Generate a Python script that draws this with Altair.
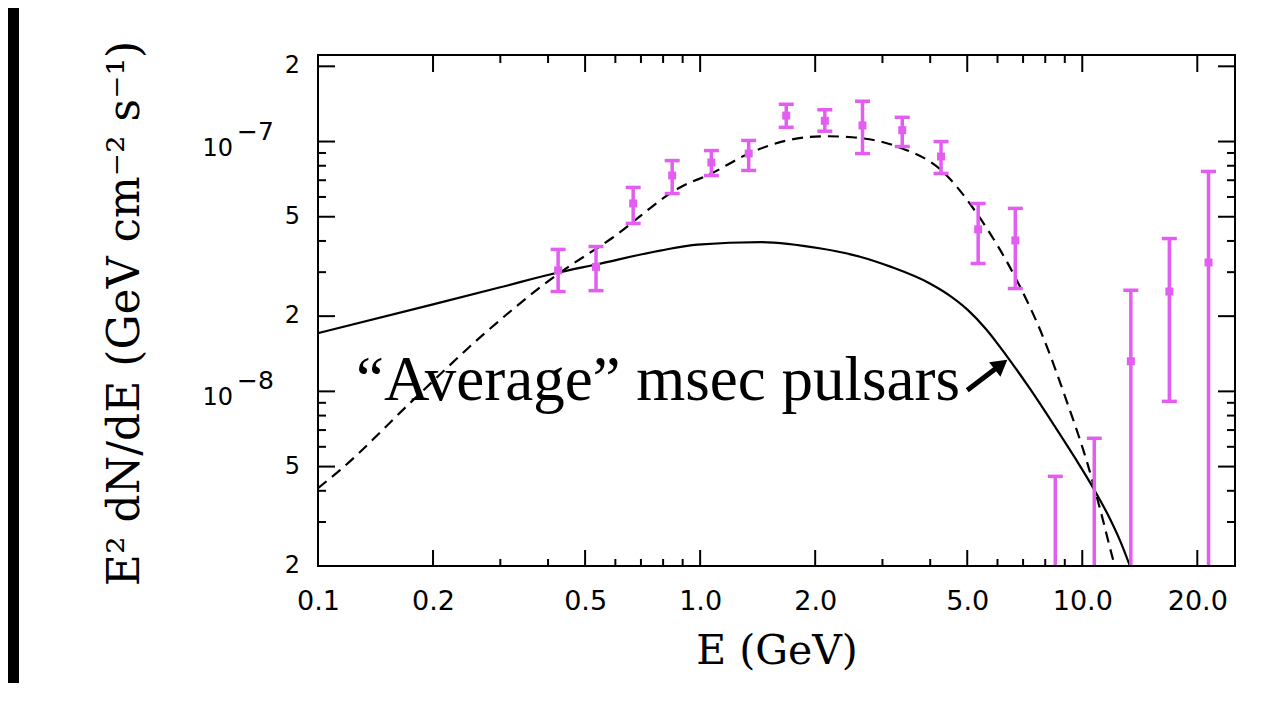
import altair as alt
import pandas as pd

# ---------------- data ----------------
# binned gamma-ray spectrum (pink points)
energy = [0.425, 0.534, 0.668, 0.845, 1.07, 1.34, 1.68, 2.12, 2.66, 3.38,
          4.27, 5.34, 6.68, 8.50, 10.75, 13.4, 16.9, 21.4]
flux = [3.05e-8, 3.15e-8, 5.65e-8, 7.31e-8, 8.24e-8, 8.95e-8, 1.27e-7, 1.21e-7,
        1.16e-7, 1.11e-7, 8.71e-8, 4.45e-8, 4.02e-8, None, None, 1.32e-8,
        2.51e-8, 3.28e-8]
flux_low = [2.51e-8, 2.53e-8, 4.70e-8, 6.19e-8, 7.31e-8, 7.66e-8, 1.14e-7,
            1.10e-7, 8.95e-8, 9.55e-8, 7.45e-8, 3.25e-8, 2.58e-8, 1e-10, 1e-10,
            1e-10, 9.12e-9, 1e-10]
flux_high = [3.70e-8, 3.80e-8, 6.55e-8, 8.39e-8, 9.20e-8, 1.01e-7, 1.41e-7,
             1.34e-7, 1.45e-7, 1.25e-7, 1.00e-7, 5.65e-8, 5.40e-8, 4.57e-9,
             6.49e-9, 2.54e-8, 4.09e-8, 7.59e-8]

# "average" msec pulsar spectrum (solid)
msp_energy = [0.1, 0.2, 0.3, 0.425, 0.534, 0.786, 0.985, 1.44, 2.07, 2.62,
              3.16, 3.98, 4.46, 5.03, 5.61, 6.29, 7.31, 8.45, 9.59, 10.69,
              11.84, 12.58, 13.36]
msp_flux = [1.71e-8, 2.23e-8, 2.61e-8, 2.99e-8, 3.22e-8, 3.66e-8, 3.87e-8,
            3.96e-8, 3.73e-8, 3.46e-8, 3.15e-8, 2.71e-8, 2.44e-8, 2.11e-8,
            1.77e-8, 1.41e-8, 1.02e-8, 7.29e-9, 5.39e-9, 4.10e-9, 3.07e-9,
            2.51e-9, 1.98e-9]

# fitted model (dashed)
fit_energy = [0.1, 0.114, 0.177, 0.265, 0.413, 0.591, 0.886, 1.07, 1.34, 1.69,
              2.13, 2.50, 3.30, 4.27, 5.375, 6.80, 7.76, 9.14, 10.31, 11.15,
              12.05, 12.35]
fit_flux = [4.1e-9, 4.83e-9, 9.2e-9, 1.64e-8, 2.86e-8, 4.13e-8, 6.55e-8,
            7.45e-8, 8.95e-8, 1.01e-7, 1.05e-7, 1.04e-7, 9.51e-8, 7.69e-8,
            4.99e-8, 2.71e-8, 1.76e-8, 8.98e-9, 5.16e-9, 3.35e-9, 2.11e-9,
            1.84e-9]

# axes
x_domain = [0.1, 25.1]
y_domain = [2e-9, 2.22e-7]
x_label_values = [0.1, 0.2, 0.5, 1.0, 2.0, 5.0, 10.0, 20.0]
x_major_ticks = [0.2, 0.5, 1.0, 2.0, 5.0, 10.0, 20.0]
x_minor_ticks = [0.3, 0.4, 0.6, 0.7, 0.8, 0.9, 3.0, 4.0, 6.0, 7.0, 8.0, 9.0]
y_label_values = [2e-7, 5e-8, 2e-8, 5e-9, 2e-9]
y_label_text = ["2", "5", "2", "5", "2"]
y_decade_values = [1e-7, 1e-8]
y_decade_exponent = ["\u22127", "\u22128"]
y_major_ticks = [2e-7, 1e-7, 5e-8, 2e-8, 1e-8, 5e-9]
y_minor_ticks = [9e-8, 8e-8, 7e-8, 6e-8, 4e-8, 3e-8,
                 9e-9, 8e-9, 7e-9, 6e-9, 4e-9, 3e-9]

x_title = "E (GeV)"
y_title = "E\u00b2  dN/dE  (GeV  cm\u207b\u00b2  s\u207b\u00b9)"

# annotation
note_text = "\u201cAverage\u201d msec pulsars"
note_energy = [0.1257]
note_flux = [9.2e-9]
arrow_energy = [5.0, 6.13]
arrow_flux = [1.01e-8, 1.28e-8]
arrow_head_angle = [52]

# ---------------- chart ----------------
W, H = 917, 511
PINK = "#e25ef0"
SERIF = "DejaVu Serif, Liberation Serif, serif"

xscale = alt.Scale(type="log", domain=x_domain, nice=False)
yscale = alt.Scale(type="log", domain=y_domain, nice=False)

xaxis = alt.Axis(values=x_label_values, format=".1f", ticks=False, domain=False,
                 grid=False, labelFont="DejaVu Sans", labelFontSize=27,
                 labelColor="black", labelPadding=22, labelFlush=False,
                 labelOverlap=False, title=x_title, titleFont=SERIF,
                 titleFontSize=41, titleFontWeight="normal", titleColor="black",
                 titleY=97, titleBaseline="alphabetic", zindex=1)
yaxis = alt.Axis(labels=False, ticks=False, domain=False, grid=False,
                 title=y_title, titleFont=SERIF, titleFontSize=44,
                 titleFontWeight="normal", titleColor="black", titleAngle=270,
                 titleX=-180, titleY=258, titleAlign="center",
                 titleBaseline="alphabetic", zindex=1)


def X(field="E"):
    return alt.X(f"{field}:Q", scale=xscale, axis=xaxis)


def Y(field="F"):
    return alt.Y(f"{field}:Q", scale=yscale, axis=yaxis)


pts = pd.DataFrame({"E": energy, "F": flux, "lo": flux_low, "hi": flux_high})
msp = pd.DataFrame({"E": msp_energy, "F": msp_flux})
fit = pd.DataFrame({"E": fit_energy, "F": fit_flux})
one = pd.DataFrame({"a": [0]})

background = alt.Chart(one).mark_rect(color="white", clip=False).encode(
    x=alt.value(-299), x2=alt.value(W + 32), y=alt.value(-47), y2=alt.value(H + 117))

solid = alt.Chart(msp).mark_line(color="black", strokeWidth=2.2, clip=True,
                                 interpolate="monotone").encode(x=X(), y=Y())
dashed = alt.Chart(fit).mark_line(color="black", strokeWidth=2.2, clip=True,
                                  strokeDash=[11, 7],
                                  interpolate="monotone").encode(x=X(), y=Y())

bars = alt.Chart(pts).mark_rule(color=PINK, strokeWidth=3.5, clip=True).encode(
    x=X(), y=Y("lo"), y2="hi:Q")
cap_lo = alt.Chart(pts).mark_tick(color=PINK, orient="horizontal", size=15,
                                  thickness=3.5, opacity=1, clip=True).encode(
    x=X(), y=Y("lo"))
cap_hi = alt.Chart(pts).mark_tick(color=PINK, orient="horizontal", size=15,
                                  thickness=3.5, opacity=1, clip=True).encode(
    x=X(), y=Y("hi"))
markers = alt.Chart(pts).transform_filter("isValid(datum.F)").mark_square(
    color=PINK, size=64, opacity=1, clip=True).encode(x=X(), y=Y())

xmaj = pd.DataFrame({"E": x_major_ticks})
xmin = pd.DataFrame({"E": x_minor_ticks})
ymaj = pd.DataFrame({"F": y_major_ticks})
ymin = pd.DataFrame({"F": y_minor_ticks})

tick_layers = []
for df, ln in ((xmaj, 16), (xmin, 7)):
    tick_layers.append(alt.Chart(df).mark_rule(color="black", strokeWidth=2).encode(
        x=X(), y=alt.value(H), y2=alt.value(H - ln)))
    tick_layers.append(alt.Chart(df).mark_rule(color="black", strokeWidth=2).encode(
        x=X(), y=alt.value(0), y2=alt.value(ln + 1)))
for df, ln in ((ymaj, 17), (ymin, 8)):
    tick_layers.append(alt.Chart(df).mark_rule(color="black", strokeWidth=2).encode(
        y=Y(), x=alt.value(0), x2=alt.value(ln)))
    tick_layers.append(alt.Chart(df).mark_rule(color="black", strokeWidth=2).encode(
        y=Y(), x=alt.value(W), x2=alt.value(W - ln)))

ylab = pd.DataFrame({"F": y_label_values, "t": y_label_text})
ydec = pd.DataFrame({"F": y_decade_values, "t": ["10"] * len(y_decade_values),
                     "e": y_decade_exponent})
ylabels = alt.Chart(ylab).mark_text(align="right", baseline="middle",
                                    font="DejaVu Sans", fontSize=24,
                                    color="black").encode(
    x=alt.value(-18), y=Y(), text="t:N")
ydec_base = alt.Chart(ydec).mark_text(align="right", baseline="middle",
                                      font="DejaVu Sans", fontSize=24, dy=7,
                                      color="black").encode(
    x=alt.value(-85), y=Y(), text="t:N")
ydec_exp = alt.Chart(ydec).mark_text(align="left", baseline="middle",
                                     font="DejaVu Sans", fontSize=25, dy=-10,
                                     color="black").encode(
    x=alt.value(-81), y=Y(), text="e:N")

note = alt.Chart(pd.DataFrame({"E": note_energy, "F": note_flux,
                               "t": [note_text]})).mark_text(
    align="left", baseline="alphabetic", font="Liberation Serif", fontSize=63,
    color="black").encode(x=X(), y=Y(), text="t:N")

arrow_df = pd.DataFrame({"E": arrow_energy, "F": arrow_flux})
arrow_line = alt.Chart(arrow_df).mark_line(color="black", strokeWidth=5,
                                           strokeCap="butt").encode(x=X(), y=Y())
arrow_head = alt.Chart(pd.DataFrame({"E": arrow_energy[-1:], "F": arrow_flux[-1:],
                                     "ang": arrow_head_angle})).mark_point(
    shape="triangle-up", filled=True, color="black", size=340, opacity=1).encode(
    x=X(), y=Y(), angle=alt.Angle("ang:Q", scale=None))

frame = alt.Chart(one).mark_rect(filled=False, stroke="black", strokeWidth=2,
                                 clip=False).encode(
    x=alt.value(0), x2=alt.value(W), y=alt.value(0), y2=alt.value(H))

chart = alt.layer(
    background, dashed, solid, bars, cap_lo, cap_hi, markers, *tick_layers,
    ylabels, ydec_base, ydec_exp, note, arrow_line, arrow_head, frame
).properties(
    width=W, height=H,
    autosize=alt.AutoSizeParams(type="none"),
    padding={"left": 310, "top": 47, "right": 32, "bottom": 117},
).configure(background="black").configure_view(stroke="transparent")

chart.save("out.html", embed_options={"renderer": "svg", "actions": False})
